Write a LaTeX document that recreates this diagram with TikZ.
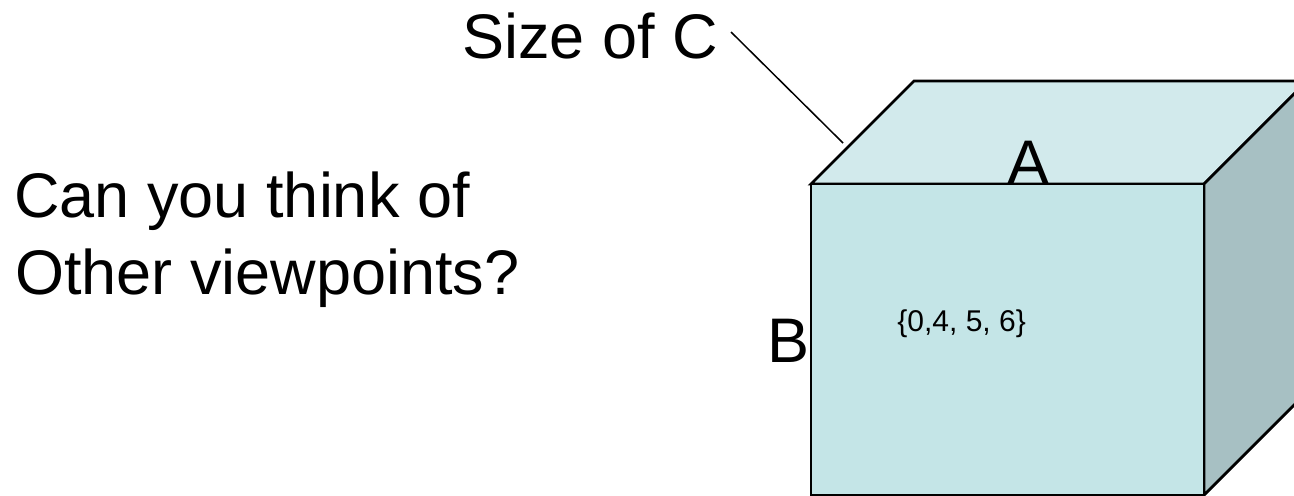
\documentclass[tikz,border=0pt]{standalone}
\usepackage{fontspec}
\setmainfont{Liberation Sans}
\definecolor{frontc}{RGB}{196,229,231}
\definecolor{topc}{RGB}{210,234,236}
\definecolor{sidec}{RGB}{167,192,195}
\tikzset{
  big/.style={inner sep=0pt, anchor=base west, font=\fontsize{31.5pt}{38.5pt}\selectfont},
  small/.style={inner sep=0pt, anchor=base west, font=\fontsize{15pt}{18pt}\selectfont},
  edge/.style={draw=black, line width=1.4pt, line join=miter},
  leader/.style={draw=black, line width=0.75pt}
}
\begin{document}
\begin{tikzpicture}[x=0.5pt, y=-0.5pt]
\useasboundingbox (0,0) rectangle (1294,496);
\clip (0,0) rectangle (1294,496);
% cube corners
\coordinate (FTL) at (811,184);
\coordinate (FTR) at (1204,184);
\coordinate (FBR) at (1204,495);
\coordinate (FBL) at (811,495);
\coordinate (BTL) at (914,81);
\coordinate (BTR) at (1307,81);
\coordinate (BBR) at (1307,392);
% faces
\filldraw[edge, fill=topc] (FTL) -- (BTL) -- (BTR) -- (FTR) -- cycle;
\filldraw[edge, fill=sidec] (FTR) -- (BTR) -- (BBR) -- (FBR) -- cycle;
\filldraw[edge, fill=frontc] (FTL) -- (FTR) -- (FBR) -- (FBL) -- cycle;
% labels
\node[big] (sizec) at (462,59) {Size of C};
\coordinate (ls) at (731,32);
\coordinate (le) at (843,143);
\draw[leader] (ls) -- (le);
\node[big] (q1) at (14,218) {Can you think of};
\node[big] (q2) at (15,295) {Other viewpoints?};
\node[big] (la) at (1007,185) {A};
\node[big] (lb) at (767,362) {B};
\node[small] (set) at (897,331) {\{0,4, 5, 6\}};
\end{tikzpicture}
\end{document}
